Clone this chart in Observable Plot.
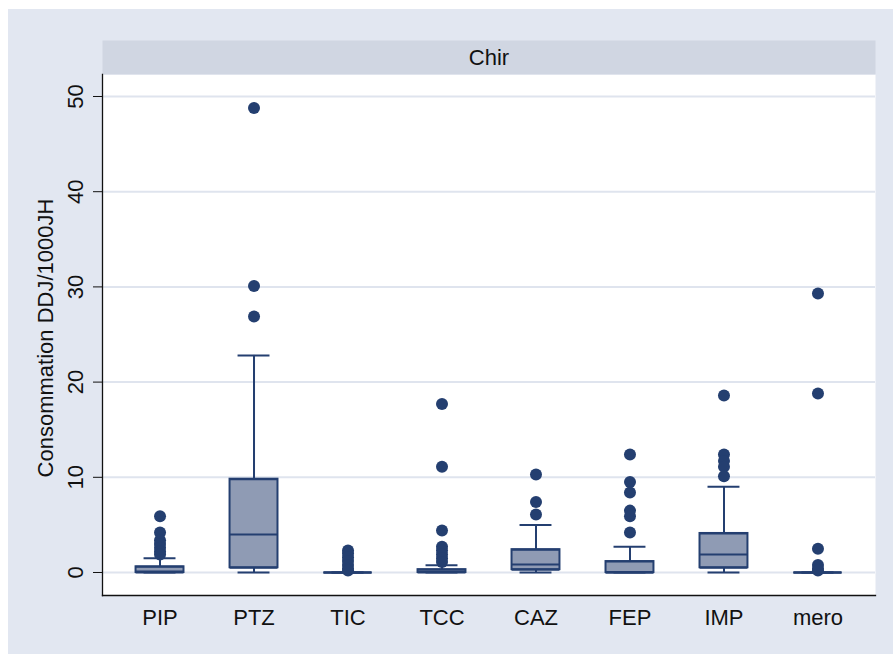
<!DOCTYPE html>
<html>
<head>
<meta charset="utf-8">
<script src="https://cdn.jsdelivr.net/npm/d3@7"></script>
<script src="https://cdn.jsdelivr.net/npm/@observablehq/plot@0.6"></script>
<style>
  html, body { margin: 0; padding: 0; background: #ffffff; overflow: hidden; }
  #chart { position: absolute; left: 8px; top: 9px; }
</style>
</head>
<body>
<div id="chart"></div>
<script>
// ---- data ----
const categories = ["PIP", "PTZ", "TIC", "TCC", "CAZ", "FEP", "IMP", "mero"];
const whiskerLow = [0, 0, 0, 0, 0, 0, 0, 0];
const q1 = [0, 0.5, 0, 0, 0.3, 0, 0.5, 0];
const median = [0.1, 4.0, 0, 0.05, 0.85, 0, 1.9, 0];
const q3 = [0.6, 9.8, 0, 0.3, 2.4, 1.15, 4.1, 0];
const whiskerHigh = [1.5, 22.8, 0, 0.75, 5.0, 2.7, 9.0, 0];
const outliers = [
  [5.9, 4.2, 3.4, 3.0, 2.6, 2.2, 1.9],
  [48.8, 30.1, 26.9],
  [2.3, 2.0, 1.6, 1.2, 0.8, 0.4, 0.2],
  [17.7, 11.1, 4.4, 2.7, 2.3, 1.9, 1.5, 1.1],
  [10.3, 7.4, 6.1],
  [12.4, 9.5, 8.4, 6.5, 5.9, 4.2],
  [18.6, 12.4, 11.7, 11.1, 10.1],
  [29.3, 18.8, 2.5, 0.8, 0.4, 0.2]
];
const yTicks = [0, 10, 20, 30, 40, 50];
const panelTitle = "Chir";
const yLabel = "Consommation DDJ/1000JH";

// ---- tables built from the arrays ----
const boxes = categories.map((c, i) => ({
  cat: c, lo: whiskerLow[i], q1: q1[i], med: median[i], q3: q3[i], hi: whiskerHigh[i]
}));
const points = categories.flatMap((c, i) => outliers[i].map(v => ({cat: c, v})));

const navy = "#243f70";
const boxFill = "#8f9bb4";
const font = "'Liberation Sans', Arial, Helvetica, sans-serif";

const chart = Plot.plot({
  width: 885,
  height: 645,
  marginLeft: 94,
  marginRight: 18,
  marginTop: 65,
  marginBottom: 59,
  style: {background: "#e2e7f1", fontFamily: font, fontSize: "22px", color: "#111"},
  x: {domain: categories, paddingInner: 0.49, paddingOuter: 0.357, round: false, label: null},
  y: {domain: [-2.416, 52.31], label: null},
  marks: [
    Plot.frame({fill: "white", stroke: null}),
    // header strip
    Plot.frame({fill: "#d0d6e2", stroke: null, insetTop: -34, insetBottom: 521}),
    Plot.text([panelTitle], {frameAnchor: "top", dy: -17, lineAnchor: "middle", fontSize: 22, fill: "#111"}),
    // grid
    Plot.ruleY(yTicks, {stroke: "#dfe4ee", strokeWidth: 2}),
    // axes
    Plot.axisY({ticks: yTicks, tickSize: 9, tickFormat: () => "", stroke: "#111"}),
    Plot.text(yTicks, {y: d => d, frameAnchor: "left", dx: -27, rotate: -90, lineAnchor: "middle", textAnchor: "middle", fontSize: 22, fill: "#111"}),
    Plot.text([yLabel], {frameAnchor: "left", dx: -57, dy: 3, rotate: -90, lineAnchor: "middle", textAnchor: "middle", fontSize: 22, fill: "#111"}),
    Plot.axisX({tickSize: 0, tickPadding: 14, fontSize: 22, fill: "#111"}),
    Plot.frame({anchor: "left", stroke: "#111", strokeWidth: 1.3}),
    Plot.frame({anchor: "bottom", stroke: "#111", strokeWidth: 1.3}),
    // whiskers
    Plot.ruleX(boxes, {x: "cat", y1: "q3", y2: "hi", stroke: navy, strokeWidth: 2}),
    Plot.ruleX(boxes, {x: "cat", y1: "lo", y2: "q1", stroke: navy, strokeWidth: 2}),
    Plot.tickY(boxes, {x: "cat", y: "hi", stroke: navy, strokeWidth: 2, insetLeft: 8, insetRight: 8}),
    Plot.tickY(boxes, {x: "cat", y: "lo", stroke: navy, strokeWidth: 2, insetLeft: 8, insetRight: 8}),
    // boxes
    Plot.barY(boxes, {x: "cat", y1: "q1", y2: "q3", fill: boxFill, stroke: navy, strokeWidth: 2}),
    Plot.tickY(boxes, {x: "cat", y: "q1", stroke: navy, strokeWidth: 2}),
    Plot.tickY(boxes, {x: "cat", y: "q3", stroke: navy, strokeWidth: 2}),
    Plot.tickY(boxes, {x: "cat", y: "med", stroke: navy, strokeWidth: 2}),
    // outliers
    Plot.dot(points, {x: "cat", y: "v", r: 6, fill: navy, stroke: null})
  ]
});
document.getElementById("chart").append(chart);
</script>
</body>
</html>
